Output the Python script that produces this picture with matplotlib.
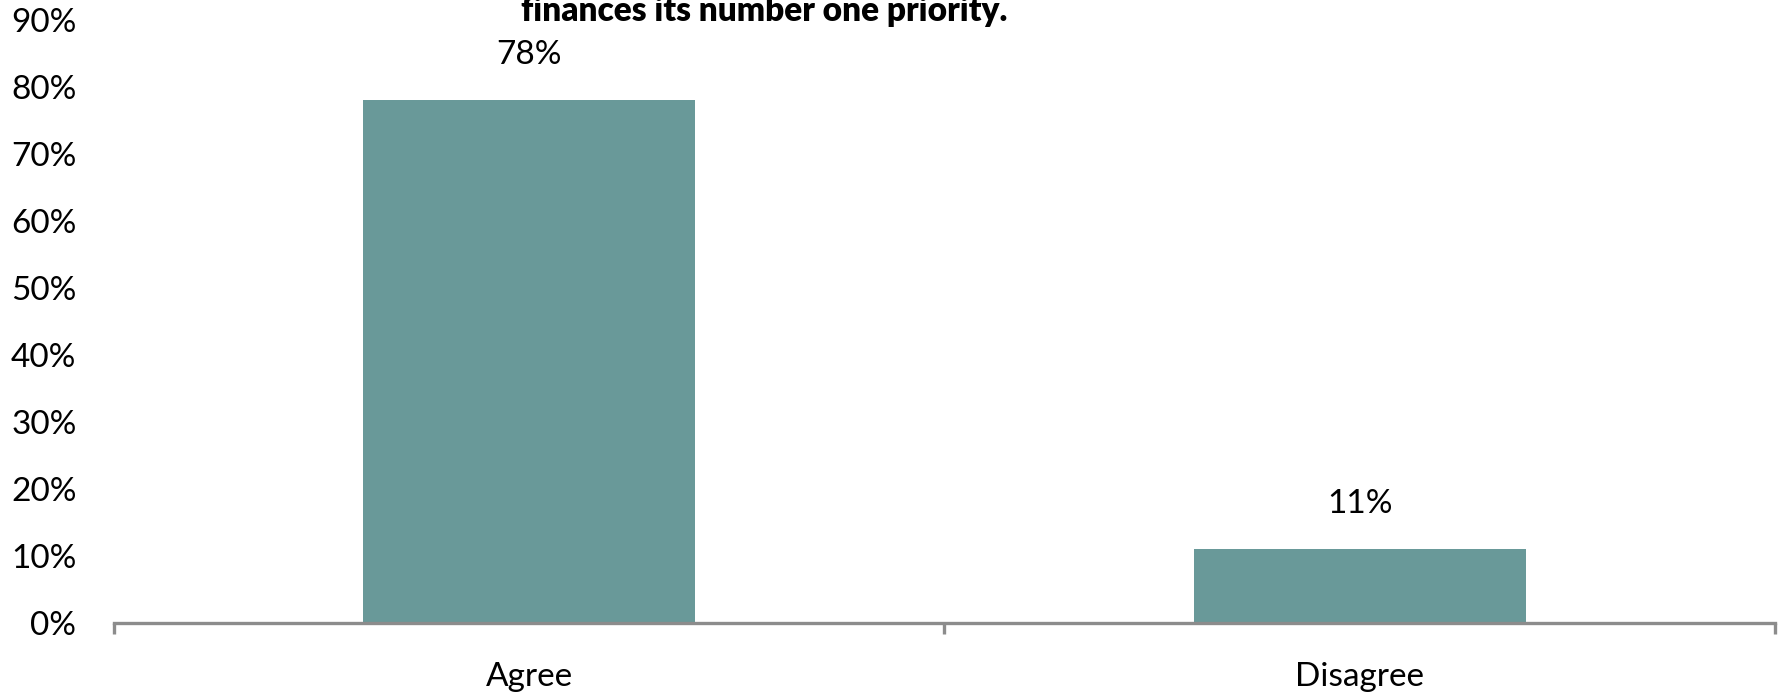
import numpy as np
import matplotlib.pyplot as plt

# Survey answers
categories = ["Agree", "Disagree"]
shares = [0.78, 0.11]
y_ticks = [0.0, 0.1, 0.2, 0.3, 0.4, 0.5, 0.6, 0.7, 0.8, 0.9]
title_text = "finances its number one priority."

plt.rcParams['font.family'] = ['Lato', 'DejaVu Sans']

fig = plt.figure(figsize=(17.81, 6.98), dpi=100)
ax = fig.add_axes([0.064, 0.1074, 0.9326, 0.8639])

x = np.arange(len(categories))
bars = ax.bar(x, shares, width=0.4, color='#699999')

# value labels above bars
for rect, v in zip(bars, shares):
    ax.annotate(f"{v * 100:.0f}%", (rect.get_x() + rect.get_width() / 2, v),
                xytext=(0, 22), textcoords='offset points',
                ha='center', va='bottom', fontsize=24)

ax.set_xlim(-0.5, len(categories) - 0.5)
ax.set_ylim(0, 0.9)
ax.set_yticks(y_ticks)
ax.set_yticklabels([f"{t * 100:.0f}%" for t in y_ticks], fontsize=24)
ax.tick_params(axis='y', length=0, pad=27)

ax.set_xticks(x)
ax.set_xticklabels(categories, fontsize=24)
ax.tick_params(axis='x', which='major', length=0, pad=28)
ax.set_xticks(np.arange(len(categories) + 1) - 0.5, minor=True)
ax.tick_params(axis='x', which='minor', length=8, width=2.4, color='#8c8c8c')

for side in ['left', 'right', 'top']:
    ax.spines[side].set_visible(False)
ax.spines['bottom'].set_color('#8c8c8c')
ax.spines['bottom'].set_linewidth(2.4)

# chart title (upper line runs off the top edge)
fig.text(0.429, 0.970, title_text, ha='center', va='baseline',
         fontsize=24, fontweight='heavy')

fig.savefig('out.png', dpi=100)
